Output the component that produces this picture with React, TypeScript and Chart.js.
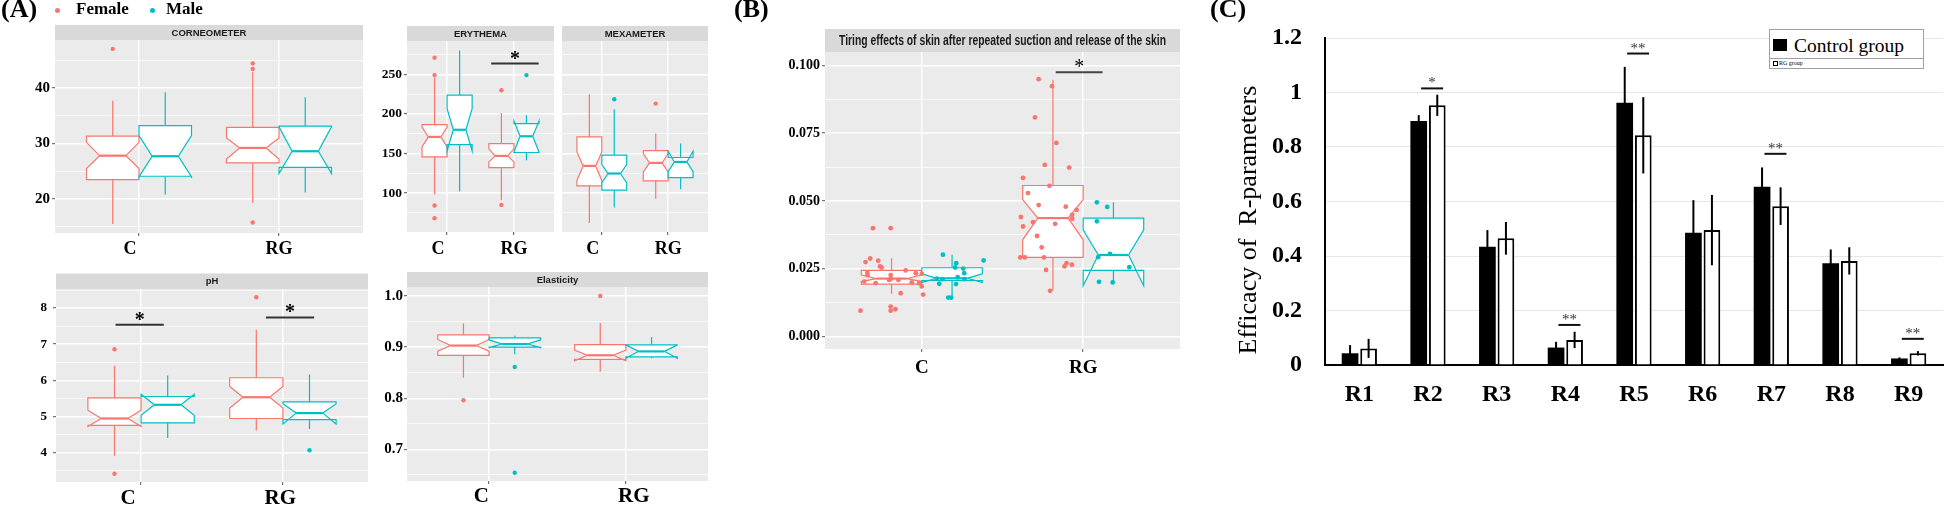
import React, { useEffect, useRef } from 'react';
import { Chart, registerables } from 'chart.js';

Chart.register(...registerables);

const SERIF = '"Liberation Serif", "Times New Roman", serif';
const SANS = '"Liberation Sans", Arial, sans-serif';
const FEMALE = '#F8766D';
const MALE = '#00BFC4';
const PANEL_BG = '#EBEBEB';
const STRIP_BG = '#D9D9D9';
const DODGE = 0.1875;
const HALF = 0.1875;

// ---------------- DATA ----------------
const sexLabels = ['Female', 'Male'];
const groupCategories = ['C', 'RG'];

// box stats per group (C, RG): [lower whisker, Q1, notch low, median, notch high, Q3, upper whisker]
const corneoFemale = [[15.5, 23.5, 25.5, 27.8, 30.2, 31.3, 37.7], [19.3, 26.5, 27.2, 29.2, 31.0, 32.9, 42.9]];
const corneoMale = [[20.8, 24.1, 24.0, 27.7, 31.4, 33.2, 39.2], [21.2, 25.7, 24.6, 28.6, 33.0, 33.1, 38.3]];
const corneoFemaleOut = [[47.0], [44.4, 43.4, 15.8]];
const corneoMaleOut = [[], []];

const erythemaFemale = [[98.7, 145.7, 158.4, 171, 183.5, 186.6, 245.8], [91.5, 132.3, 139.4, 147, 156, 162.6, 201]];
const erythemaMale = [[102, 161.3, 153.3, 180, 206.7, 223.8, 280], [141.5, 151.3, 152, 171.8, 191, 187.8, 198.3]];
const erythemaFemaleOut = [[271, 249, 84.4, 68.5], [229.8, 85.2]];
const erythemaMaleOut = [[], [249]];

const mexameterFemale = [[62.2, 109.2, 116, 134.4, 152, 171, 224.8], [92.8, 115.5, 126.8, 138.2, 150, 153.8, 175.2]];
const mexameterMale = [[82, 103.8, 113, 124.8, 136, 147.9, 205.9], [105, 119.7, 127, 139.4, 153, 145, 162.6]];
const mexameterFemaleOut = [[], [213]];
const mexameterMaleOut = [[218.5], []];

const phFemale = [[3.91, 4.75, 4.72, 4.94, 5.17, 5.51, 6.40], [4.61, 4.94, 5.23, 5.53, 5.83, 6.07, 7.40]];
const phMale = [[4.40, 4.82, 5.03, 5.32, 5.61, 5.55, 6.13], [4.65, 4.91, 4.79, 5.09, 5.35, 5.40, 6.16]];
const phFemaleOut = [[6.86, 3.41], [8.30]];
const phMaleOut = [[], [4.06]];

const elasticityFemale = [[0.840, 0.884, 0.892, 0.903, 0.915, 0.924, 0.946], [0.852, 0.876, 0.873, 0.884, 0.894, 0.905, 0.947]];
const elasticityMale = [[0.886, 0.900, 0.899, 0.906, 0.914, 0.918, 0.922], [0.878, 0.881, 0.878, 0.8916, 0.904, 0.9045, 0.920]];
const elasticityFemaleOut = [[0.796], [1.0]];
const elasticityMaleOut = [[0.861, 0.654], []];

const tiringFemale = [[0.0158, 0.0194, 0.0203, 0.0214, 0.0228, 0.0244, 0.0289], [0.0169, 0.0292, 0.0357, 0.0437, 0.0505, 0.0557, 0.0947]];
const tiringMale = [[0.0145, 0.0207, 0.0200, 0.0215, 0.0232, 0.0254, 0.0302], [0.0197, 0.0244, 0.0188, 0.0301, 0.0394, 0.0437, 0.0495]];
// jittered observations: [offset from group centre, value]
const tiringFemaleJitter = [
  [[-0.303, 0.0400], [-0.193, 0.0400], [-0.320, 0.0288], [-0.349, 0.0275], [-0.270, 0.0280], [-0.259, 0.0259],
   [-0.249, 0.0255], [-0.338, 0.0236], [-0.336, 0.0227], [-0.100, 0.0244], [-0.037, 0.0234], [-0.193, 0.0227],
   [-0.193, 0.0213], [-0.203, 0.0209], [-0.145, 0.0209], [-0.357, 0.0203], [-0.286, 0.0197], [-0.062, 0.0200],
   [-0.017, 0.0197], [0.0, 0.0232], [0.0, 0.0185], [0.008, 0.0155], [-0.131, 0.0160], [-0.380, 0.0096],
   [-0.193, 0.0111], [-0.193, 0.0096], [-0.164, 0.0101]],
  [[-0.276, 0.0949], [-0.193, 0.0923], [-0.299, 0.0808], [-0.166, 0.0714], [-0.238, 0.0633], [-0.087, 0.0623],
   [-0.373, 0.0585], [-0.209, 0.0556], [-0.342, 0.0529], [-0.276, 0.0485], [-0.108, 0.0479], [-0.041, 0.0467],
   [-0.068, 0.0449], [-0.068, 0.0435], [-0.386, 0.0441], [-0.311, 0.0422], [-0.174, 0.0416], [-0.373, 0.0406],
   [-0.286, 0.0371], [-0.257, 0.0329], [-0.390, 0.0292], [-0.361, 0.0292], [-0.243, 0.0292], [-0.230, 0.0246],
   [-0.116, 0.0259], [-0.103, 0.0271], [-0.070, 0.0265], [-0.205, 0.0169]],
];
const tiringMaleJitter = [
  [[0.131, 0.0302], [0.213, 0.0271], [0.207, 0.0255], [0.257, 0.0251], [0.263, 0.0234], [0.383, 0.0281],
   [0.093, 0.0214], [0.108, 0.0195], [0.164, 0.0144], [0.182, 0.0144], [0.212, 0.0194], [0.222, 0.0219],
   [0.265, 0.0212], [0.128, 0.0212]],
  [[0.085, 0.0495], [0.149, 0.0478], [0.085, 0.0425], [0.093, 0.0293], [0.166, 0.0305], [0.286, 0.0256],
   [0.098, 0.0202], [0.183, 0.0200]],
];

// significance bars: group, level, start/end offset, label
const erythemaSig = [{ group: 'RG', y: 263.5, from: -0.34, to: 0.37, label: '*' }];
const phSig = [
  { group: 'C', y: 7.54, from: -0.18, to: 0.16, label: '*' },
  { group: 'RG', y: 7.74, from: -0.12, to: 0.22, label: '*' },
];
const tiringSig = [{ group: 'RG', y: 0.0974, from: -0.17, to: 0.12, label: '*' }];

// Panel C
const rCategories = ['R1', 'R2', 'R3', 'R4', 'R5', 'R6', 'R7', 'R8', 'R9'];
const controlMeans = [0.043, 0.895, 0.434, 0.064, 0.962, 0.485, 0.654, 0.373, 0.024];
const controlSD = [0.03, 0.022, 0.061, 0.021, 0.132, 0.12, 0.071, 0.051, 0.004];
const rgMeans = [0.061, 0.953, 0.465, 0.092, 0.843, 0.495, 0.583, 0.382, 0.043];
const rgSD = [0.035, 0.039, 0.06, 0.03, 0.14, 0.129, 0.069, 0.05, 0.008];
const rSigGroups = ['R2', 'R4', 'R5', 'R7', 'R9'];
const rSigLevels = [1.015, 0.147, 1.143, 0.775, 0.096];
const rSigLabels = ['*', '**', '**', '**', '**'];
const rYTicks = [0, 0.2, 0.4, 0.6, 0.8, 1, 1.2];

// ---------------- FACET CHARTS ----------------
type Rect = { l: number; t: number; r: number; b: number };
type SigItem = { group: string; y: number; from: number; to: number; label: string };
interface FacetSpec {
  key: string;
  canvas: Rect; area: Rect;
  yMin: number; yMax: number; yMajor: number[]; yMinor: number[]; yDigits: number;
  showY: boolean; yFont: number; yPad: number; xFont: number; xPad: number;
  xShift: number[]; // horizontal nudge (px) of each category label, as in the original
  strip: string; stripH: number; stripFont: string; stripMaxW?: number;
  female: number[][]; male: number[][];
  femaleOut: number[][]; maleOut: number[][];
  femaleJitter?: number[][][]; maleJitter?: number[][][];
  sigs?: SigItem[]; starFont?: string; starDy?: number; sigColor?: string;
}

const facets: FacetSpec[] = [
  {
    key: 'corneo', canvas: { l: 0, t: 18, r: 372, b: 268 }, area: { l: 55, t: 40, r: 363, b: 233 },
    yMin: 13.9, yMax: 48.6, yMajor: [20, 30, 40], yMinor: [15, 25, 35, 45], yDigits: 0,
    showY: true, yFont: 15, yPad: 2, xFont: 18, xPad: 3, xShift: [-9, 0],
    strip: 'CORNEOMETER', stripH: 15, stripFont: `bold 9.5px ${SANS}`,
    female: corneoFemale, male: corneoMale, femaleOut: corneoFemaleOut, maleOut: corneoMaleOut,
  },
  {
    key: 'ery', canvas: { l: 372, t: 18, r: 558, b: 268 }, area: { l: 407, t: 41, r: 555, b: 232 },
    yMin: 51, yMax: 292, yMajor: [100, 150, 200, 250], yMinor: [75, 125, 175, 225, 275], yDigits: 0,
    showY: true, yFont: 13.5, yPad: 2, xFont: 18, xPad: 4, xShift: [-9, 0],
    strip: 'ERYTHEMA', stripH: 15, stripFont: `bold 9.5px ${SANS}`,
    female: erythemaFemale, male: erythemaMale, femaleOut: erythemaFemaleOut, maleOut: erythemaMaleOut,
    sigs: erythemaSig, starFont: `bold 20px ${SERIF}`, starDy: 1, sigColor: '#333',
  },
  {
    key: 'mexa', canvas: { l: 558, t: 18, r: 712, b: 268 }, area: { l: 560, t: 41, r: 710, b: 232 },
    yMin: 51, yMax: 292, yMajor: [100, 150, 200, 250], yMinor: [75, 125, 175, 225, 275], yDigits: 0,
    showY: false, yFont: 13.5, yPad: 2, xFont: 18, xPad: 4, xShift: [-9, 0],
    strip: 'MEXAMETER', stripH: 15, stripFont: `bold 9.5px ${SANS}`,
    female: mexameterFemale, male: mexameterMale, femaleOut: mexameterFemaleOut, maleOut: mexameterMaleOut,
  },
  {
    key: 'ph', canvas: { l: 0, t: 262, r: 372, b: 508 }, area: { l: 56, t: 289, r: 368, b: 482 },
    yMin: 3.18, yMax: 8.53, yMajor: [4, 5, 6, 7, 8], yMinor: [3.5, 4.5, 5.5, 6.5, 7.5, 8.5], yDigits: 0,
    showY: true, yFont: 13, yPad: 6, xFont: 21, xPad: 1, xShift: [-13, -3],
    strip: 'pH', stripH: 15.5, stripFont: `bold 9.5px ${SANS}`,
    female: phFemale, male: phMale, femaleOut: phFemaleOut, maleOut: phMaleOut,
    sigs: phSig, starFont: `bold 20px ${SERIF}`, starDy: 1, sigColor: '#333',
  },
  {
    key: 'elas', canvas: { l: 372, t: 262, r: 712, b: 508 }, area: { l: 407, t: 287, r: 710, b: 481 },
    yMin: 0.638, yMax: 1.0176, yMajor: [0.7, 0.8, 0.9, 1.0], yMinor: [0.65, 0.75, 0.85, 0.95], yDigits: 1,
    showY: true, yFont: 15, yPad: 1, xFont: 21, xPad: 0, xShift: [-7, 8],
    strip: 'Elasticity', stripH: 15, stripFont: `bold 9.5px ${SANS}`,
    female: elasticityFemale, male: elasticityMale, femaleOut: elasticityFemaleOut, maleOut: elasticityMaleOut,
  },
  {
    key: 'tiring', canvas: { l: 760, t: 10, r: 1192, b: 392 }, area: { l: 825, t: 52, r: 1180, b: 349 },
    yMin: -0.00454, yMax: 0.1049, yMajor: [0, 0.025, 0.05, 0.075, 0.1], yMinor: [0.0125, 0.0375, 0.0625, 0.0875], yDigits: 3,
    showY: true, yFont: 14, yPad: 2, xFont: 19, xPad: 5, xShift: [0, 0],
    strip: 'Tiring effects of skin after repeated suction and release of the skin', stripH: 23,
    stripFont: `bold 14px ${SANS}`, stripMaxW: 327,
    female: tiringFemale, male: tiringMale, femaleOut: [[], []], maleOut: [[], []],
    femaleJitter: tiringFemaleJitter, maleJitter: tiringMaleJitter,
    sigs: tiringSig, starFont: `20px ${SERIF}`, starDy: 1, sigColor: '#444',
  },
];

function zeroPad(sc: any) {
  sc.paddingLeft = 0; sc.paddingRight = 0; sc.paddingTop = 0; sc.paddingBottom = 0;
}

// nudge a centred label sideways by padding it with spaces (space = 0.25em in Times)
function nudge(label: string, px: number, fontSize: number) {
  const n = Math.round((2 * Math.abs(px)) / (0.25 * fontSize));
  if (n <= 0) return label;
  const sp = ' '.repeat(n);
  return px < 0 ? label + sp : sp + label;
}

function makeFacet(canvas: HTMLCanvasElement, s: FacetSpec) {
  const cats = groupCategories;
  const catPos = (name: string) => cats.indexOf(name) + 1;
  const outPoints = (outs: number[][], off: number) =>
    outs.flatMap((vals, i) => vals.map((v) => ({ x: i + 1 + off, y: v })));
  const jitPoints = (j: number[][][]) => j.flatMap((pts, i) => pts.map(([dx, y]) => ({ x: i + 1 + dx, y })));
  const datasets: any[] = [
    { label: sexLabels[0], data: outPoints(s.femaleOut, -DODGE), backgroundColor: FEMALE, borderWidth: 0, pointRadius: 2.2 },
    { label: sexLabels[1], data: outPoints(s.maleOut, DODGE), backgroundColor: MALE, borderWidth: 0, pointRadius: 2.2 },
  ];
  if (s.femaleJitter) datasets.push({ label: sexLabels[0], data: jitPoints(s.femaleJitter), backgroundColor: FEMALE, borderWidth: 0, pointRadius: 2.4 });
  if (s.maleJitter) datasets.push({ label: sexLabels[1], data: jitPoints(s.maleJitter), backgroundColor: MALE, borderWidth: 0, pointRadius: 2.4 });

  const yTicks = [
    ...s.yMajor.map((v) => ({ value: v, minor: false })),
    ...s.yMinor.map((v) => ({ value: v, minor: true })),
  ].sort((a, b) => a.value - b.value);

  const bgPlugin = {
    id: 'panelBg',
    beforeDraw(chart: any) {
      const { ctx, chartArea: a } = chart;
      ctx.save();
      ctx.fillStyle = PANEL_BG;
      ctx.fillRect(a.left, a.top, a.right - a.left, a.bottom - a.top);
      ctx.restore();
    },
  };

  const boxPlugin = {
    id: 'notchBoxes',
    beforeDatasetsDraw(chart: any) {
      const { ctx, chartArea: a } = chart;
      const xs = chart.scales.x, ys = chart.scales.y;
      ctx.save();
      ctx.beginPath();
      ctx.rect(a.left, a.top, a.right - a.left, a.bottom - a.top);
      ctx.clip();
      const groups = [{ stats: s.female, off: -DODGE, color: FEMALE }, { stats: s.male, off: DODGE, color: MALE }];
      for (const g of groups) {
        g.stats.forEach((st, i) => {
          const cx = i + 1 + g.off;
          const xl = xs.getPixelForValue(cx - HALF);
          const xr = xs.getPixelForValue(cx + HALF);
          const xm = xs.getPixelForValue(cx);
          const [lw, q1, nl, med, nh, q3, uw] = st.map((v) => ys.getPixelForValue(v));
          const ind = (xr - xl) * 0.25;
          ctx.strokeStyle = g.color;
          ctx.lineWidth = 1.2;
          ctx.beginPath();
          ctx.moveTo(xm, uw); ctx.lineTo(xm, q3);
          ctx.moveTo(xm, lw); ctx.lineTo(xm, q1);
          ctx.stroke();
          ctx.beginPath();
          ctx.moveTo(xl, q3); ctx.lineTo(xl, nh); ctx.lineTo(xl + ind, med); ctx.lineTo(xl, nl); ctx.lineTo(xl, q1);
          ctx.lineTo(xr, q1); ctx.lineTo(xr, nl); ctx.lineTo(xr - ind, med); ctx.lineTo(xr, nh); ctx.lineTo(xr, q3);
          ctx.closePath();
          ctx.fillStyle = '#fff';
          ctx.fill();
          ctx.stroke();
          ctx.lineWidth = 2.2;
          ctx.beginPath();
          ctx.moveTo(xl + ind, med); ctx.lineTo(xr - ind, med);
          ctx.stroke();
        });
      }
      ctx.restore();
    },
  };

  const stripPlugin = {
    id: 'strip',
    afterDraw(chart: any) {
      const { ctx, chartArea: a } = chart;
      ctx.save();
      ctx.fillStyle = STRIP_BG;
      ctx.fillRect(a.left, a.top - s.stripH, a.right - a.left, s.stripH);
      ctx.fillStyle = '#1A1A1A';
      ctx.font = s.stripFont;
      ctx.textAlign = 'center';
      ctx.textBaseline = 'middle';
      const cx = (a.left + a.right) / 2, cy = a.top - s.stripH / 2 + 0.5;
      if (s.stripMaxW) ctx.fillText(s.strip, cx, cy, s.stripMaxW);
      else ctx.fillText(s.strip, cx, cy);
      ctx.restore();
    },
  };

  const sigPlugin = {
    id: 'sigBars',
    afterDatasetsDraw(chart: any) {
      if (!s.sigs) return;
      const { ctx } = chart;
      const xs = chart.scales.x, ys = chart.scales.y;
      ctx.save();
      for (const g of s.sigs) {
        const c = catPos(g.group);
        const x0 = xs.getPixelForValue(c + g.from), x1 = xs.getPixelForValue(c + g.to);
        const y = ys.getPixelForValue(g.y);
        ctx.strokeStyle = s.sigColor || '#333';
        ctx.lineWidth = 2;
        ctx.beginPath(); ctx.moveTo(x0, y); ctx.lineTo(x1, y); ctx.stroke();
        ctx.fillStyle = '#000';
        ctx.font = s.starFont || `20px ${SERIF}`;
        ctx.textAlign = 'center';
        ctx.textBaseline = 'alphabetic';
        ctx.fillText(g.label, (x0 + x1) / 2, y + (s.starDy || 0));
      }
      ctx.restore();
    },
  };

  return new Chart(canvas, {
    type: 'scatter',
    data: { datasets },
    options: {
      responsive: false,
      maintainAspectRatio: false,
      animation: false,
      events: [],
      layout: { padding: { left: 0, right: s.canvas.r - s.area.r, top: s.area.t - s.canvas.t, bottom: 0 } },
      plugins: { legend: { display: false }, tooltip: { enabled: false } },
      scales: {
        x: {
          type: 'linear', min: 0.4, max: 2.6, bounds: 'data',
          afterBuildTicks: (sc: any) => { sc.ticks = cats.map((_, i) => ({ value: i + 1 })); },
          afterFit: (sc: any) => { sc.height = s.canvas.b - s.area.b; zeroPad(sc); },
          ticks: {
            callback: (v: any) => {
              const i = Math.round(Number(v)) - 1;
              return cats[i] ? nudge(cats[i], s.xShift[i] || 0, s.xFont) : '';
            },
            font: { family: SERIF, size: s.xFont, weight: 'bold' }, color: '#000',
            padding: s.xPad, maxRotation: 0, autoSkip: false,
          },
          grid: { color: '#FFFFFF', lineWidth: 1.4, drawTicks: true, tickLength: 3, tickColor: '#555', tickWidth: 1 },
          border: { display: false },
        },
        y: {
          type: 'linear', min: s.yMin, max: s.yMax, bounds: 'data',
          afterBuildTicks: (sc: any) => { sc.ticks = yTicks.map((t) => ({ ...t })); },
          afterFit: (sc: any) => { sc.width = s.area.l - s.canvas.l; zeroPad(sc); },
          ticks: {
            display: s.showY,
            autoSkip: false,
            callback: (v: any, i: number, ticks: any[]) => (ticks[i] && ticks[i].minor ? '' : Number(v).toFixed(s.yDigits)),
            font: { family: SERIF, size: s.yFont, weight: 'bold' }, color: '#000', padding: s.yPad,
          },
          grid: {
            color: '#FFFFFF',
            lineWidth: (c: any) => (c.tick && c.tick.minor ? 0.7 : 1.4),
            drawTicks: s.showY, tickLength: 3,
            tickColor: (c: any) => (c.tick && c.tick.minor ? 'rgba(0,0,0,0)' : '#555'),
            tickWidth: 1,
          },
          border: { display: false },
        },
      },
    } as any,
    plugins: [bgPlugin, boxPlugin, stripPlugin, sigPlugin],
  } as any);
}

// ---------------- PANEL C ----------------
const C_CANVAS: Rect = { l: 1225, t: 15, r: 1946, b: 430 };
const C_AREA: Rect = { l: 1325, t: 38, r: 1943, b: 365 };

function makeBars(canvas: HTMLCanvasElement) {
  const errPlugin = {
    id: 'errorBars',
    afterDatasetsDraw(chart: any) {
      const { ctx } = chart;
      const ys = chart.scales.y;
      const sds = [controlSD, rgSD];
      const means = [controlMeans, rgMeans];
      ctx.save();
      ctx.strokeStyle = '#000';
      ctx.lineWidth = 2;
      for (let d = 0; d < 2; d++) {
        const meta = chart.getDatasetMeta(d);
        meta.data.forEach((el: any, j: number) => {
          const y1 = ys.getPixelForValue(means[d][j] + sds[d][j]);
          const y2 = ys.getPixelForValue(means[d][j] - sds[d][j]);
          ctx.beginPath(); ctx.moveTo(el.x, y1); ctx.lineTo(el.x, y2); ctx.stroke();
        });
      }
      ctx.restore();
    },
  };
  const sigPlugin = {
    id: 'sigC',
    afterDatasetsDraw(chart: any) {
      const { ctx } = chart;
      const xs = chart.scales.x, ys = chart.scales.y;
      ctx.save();
      rSigGroups.forEach((name, k) => {
        const c = rCategories.indexOf(name);
        const x0 = xs.getPixelForValue(c - 0.1), x1 = xs.getPixelForValue(c + 0.22);
        const y = ys.getPixelForValue(rSigLevels[k]);
        ctx.strokeStyle = '#111';
        ctx.lineWidth = 2;
        ctx.beginPath(); ctx.moveTo(x0, y); ctx.lineTo(x1, y); ctx.stroke();
        ctx.fillStyle = '#333';
        ctx.font = `15px ${SERIF}`;
        ctx.textAlign = 'center';
        ctx.textBaseline = 'alphabetic';
        ctx.fillText(rSigLabels[k], (x0 + x1) / 2, y - 1);
      });
      ctx.restore();
    },
  };
  return new Chart(canvas, {
    type: 'bar',
    data: {
      labels: rCategories,
      datasets: [
        { label: 'Control group', data: controlMeans, backgroundColor: '#000', borderColor: '#000', borderWidth: 0, barPercentage: 0.9, categoryPercentage: 0.54 },
        { label: 'RG group', data: rgMeans, backgroundColor: '#fff', borderColor: '#000', borderWidth: 2, barPercentage: 0.9, categoryPercentage: 0.54 },
      ],
    },
    options: {
      responsive: false,
      maintainAspectRatio: false,
      animation: false,
      events: [],
      layout: { padding: { left: 0, right: C_CANVAS.r - C_AREA.r, top: C_AREA.t - C_CANVAS.t, bottom: 0 } },
      plugins: { legend: { display: false }, tooltip: { enabled: false } },
      scales: {
        x: {
          afterFit: (sc: any) => { sc.height = C_CANVAS.b - C_AREA.b; zeroPad(sc); },
          grid: { display: false, drawTicks: false },
          border: { display: true, color: '#000', width: 2 },
          ticks: { font: { family: SERIF, size: 24, weight: 'bold' }, color: '#000', padding: 15 },
        },
        y: {
          min: 0, max: 1.2,
          afterBuildTicks: (sc: any) => { sc.ticks = rYTicks.map((v) => ({ value: v })); },
          afterFit: (sc: any) => { sc.width = C_AREA.l - C_CANVAS.l; zeroPad(sc); },
          grid: { color: '#E6E6E6', lineWidth: 1, drawTicks: false },
          border: { display: true, color: '#000', width: 2 },
          ticks: {
            callback: (v: any) => String(Math.round(Number(v) * 10) / 10),
            font: { family: SERIF, size: 24, weight: 'bold' }, color: '#000', padding: 23,
          },
        },
      },
    } as any,
    plugins: [errPlugin, sigPlugin],
  } as any);
}

// ---------------- APP ----------------
export default function App() {
  const facetRefs = useRef<(HTMLCanvasElement | null)[]>([]);
  const barRef = useRef<HTMLCanvasElement | null>(null);

  useEffect(() => {
    const charts: Chart[] = [];
    facets.forEach((s, i) => {
      const cv = facetRefs.current[i];
      if (cv) charts.push(makeFacet(cv, s));
    });
    if (barRef.current) charts.push(makeBars(barRef.current));
    return () => charts.forEach((c) => c.destroy());
  }, []);

  const panelLabel = (left: number): React.CSSProperties => ({
    position: 'absolute', left, top: -4, font: `bold 26px ${SERIF}`, lineHeight: '26px', color: '#000', whiteSpace: 'pre',
  });
  const dot = (left: number, color: string): React.CSSProperties => ({
    position: 'absolute', left: left - 2.5, top: 7.5, width: 5, height: 5, borderRadius: '50%', background: color,
  });

  return (
    <div style={{ position: 'absolute', left: 0, top: 0, width: 1946, height: 508, background: '#fff', overflow: 'hidden' }}>
      {facets.map((s, i) => (
        <canvas
          key={s.key}
          ref={(el) => { facetRefs.current[i] = el; }}
          width={s.canvas.r - s.canvas.l}
          height={s.canvas.b - s.canvas.t}
          style={{ position: 'absolute', left: s.canvas.l, top: s.canvas.t, width: s.canvas.r - s.canvas.l, height: s.canvas.b - s.canvas.t }}
        />
      ))}
      <canvas
        ref={barRef}
        width={C_CANVAS.r - C_CANVAS.l}
        height={C_CANVAS.b - C_CANVAS.t}
        style={{ position: 'absolute', left: C_CANVAS.l, top: C_CANVAS.t, width: C_CANVAS.r - C_CANVAS.l, height: C_CANVAS.b - C_CANVAS.t }}
      />

      <div style={panelLabel(1)}>(A)</div>
      <div style={panelLabel(734)}>(B)</div>
      <div style={panelLabel(1210)}>(C)</div>

      {/* Panel A legend */}
      <div style={dot(57, FEMALE)} />
      <div style={{ position: 'absolute', left: 76, top: 0, font: `bold 17px ${SERIF}`, lineHeight: '17px' }}>{sexLabels[0]}</div>
      <div style={dot(152, MALE)} />
      <div style={{ position: 'absolute', left: 166, top: 0, font: `bold 17px ${SERIF}`, lineHeight: '17px' }}>{sexLabels[1]}</div>

      {/* Panel C y-axis title */}
      <div
        style={{
          position: 'absolute', left: 1248, top: 220, transform: 'translate(-50%, -50%) rotate(-90deg)',
          font: `26px ${SERIF}`, whiteSpace: 'pre', color: '#000', lineHeight: '30px',
        }}
      >
        {'Efficacy of  R-parameters'}
      </div>

      {/* Panel C legend */}
      <div style={{ position: 'absolute', left: 1769, top: 29, width: 153, height: 38, border: '1px solid #A0A0A0', background: '#fff' }}>
        <div style={{ position: 'absolute', left: 3, top: 9, width: 14, height: 12, background: '#000' }} />
        <div style={{ position: 'absolute', left: 24, top: 6, font: `19.5px ${SERIF}`, lineHeight: '20px', whiteSpace: 'pre' }}>Control group</div>
        <div style={{ position: 'absolute', left: 0, top: 28, width: 153, height: 1, background: '#A0A0A0' }} />
        <div style={{ position: 'absolute', left: 3, top: 31, width: 3, height: 3, border: '1px solid #000', background: '#fff' }} />
        <div style={{ position: 'absolute', left: 9, top: 30, font: `6px ${SERIF}`, lineHeight: '7px', whiteSpace: 'pre' }}>RG group</div>
      </div>
    </div>
  );
}
